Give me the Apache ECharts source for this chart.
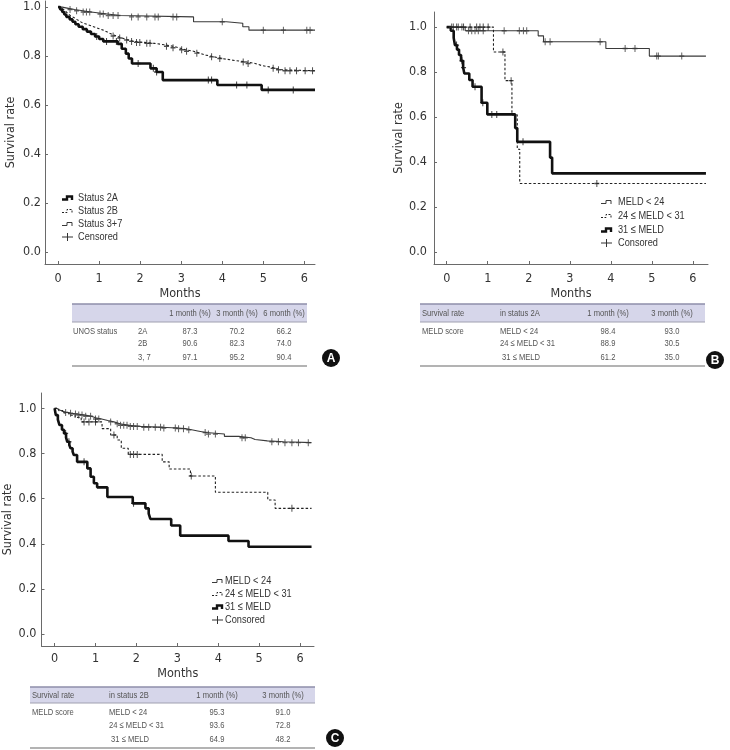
<!DOCTYPE html>
<html><head><meta charset="utf-8">
<script src="https://cdn.jsdelivr.net/npm/echarts@6/dist/echarts.min.js"></script>
<style>html,body{margin:0;padding:0;background:#fff}#c{width:730px;height:750px}</style>
</head><body><div id="c"></div>
<script>
// ---- tick labels ----
const xTicks = [0, 1, 2, 3, 4, 5, 6];
const yTicks = [0, 0.2, 0.4, 0.6, 0.8, 1.0];

// ---- Panel A: UNOS status (time in months, survival) ----
const aStatus2A = [[0,1],[0.05,0.99],[0.1,0.98],[0.15,0.97],[0.2,0.96],[0.28,0.95],[0.35,0.94],[0.42,0.93],[0.5,0.92],[0.6,0.91],[0.7,0.9],[0.8,0.89],[0.9,0.88],[1.0,0.87],[1.1,0.86],[1.45,0.85],[1.55,0.83],[1.65,0.81],[1.72,0.79],[1.8,0.77],[2.25,0.75],[2.4,0.735],[2.55,0.702],[3.88,0.682],[4.96,0.662],[6.26,0.662]];
const aStatus2ACens = [0.94,1.18,1.42,1.95,2.32,2.4,3.66,3.74,4.35,4.6,5.12,5.73];
const aStatus2B = [[0,1],[0.05,0.995],[0.1,0.988],[0.15,0.98],[0.2,0.972],[0.25,0.965],[0.3,0.958],[0.38,0.95],[0.45,0.943],[0.52,0.935],[0.6,0.93],[0.7,0.924],[0.8,0.918],[0.9,0.912],[1.0,0.906],[1.1,0.898],[1.2,0.89],[1.3,0.882],[1.42,0.874],[1.55,0.866],[1.7,0.86],[1.85,0.856],[2.1,0.852],[2.35,0.846],[2.6,0.84],[2.8,0.834],[2.95,0.826],[3.1,0.82],[3.3,0.812],[3.45,0.804],[3.6,0.797],[3.8,0.79],[4.0,0.782],[4.3,0.776],[4.6,0.77],[4.8,0.762],[4.95,0.756],[5.15,0.75],[5.3,0.744],[5.45,0.74],[6.26,0.74]];
const aStatus2BCens = [1.34,1.5,1.67,1.79,1.91,1.99,2.16,2.24,2.64,2.8,3.01,3.13,3.38,3.74,3.94,4.51,4.63,5.24,5.37,5.53,5.65,5.81,6.02,6.2];
const aStatus37 = [[0,1],[0.1,0.995],[0.25,0.99],[0.4,0.985],[0.6,0.98],[0.8,0.976],[1.0,0.972],[1.2,0.966],[1.5,0.96],[3.3,0.94],[4.1,0.934],[4.5,0.92],[4.65,0.906],[6.26,0.906]];
const aStatus37Cens = [0.29,0.45,0.61,0.69,0.77,1.02,1.1,1.22,1.34,1.46,1.79,1.95,2.16,2.36,2.44,2.8,2.89,4.0,5.0,5.49,6.06,6.14];

// ---- Panel B: MELD in status 2A ----
const bMeldLow = [[0,1],[0.45,0.984],[2.23,0.961],[2.36,0.935],[3.88,0.905],[4.94,0.871],[6.32,0.871]];
const bMeldLowCens = [0.12,0.24,0.37,0.53,0.61,0.69,0.77,0.89,1.4,1.77,1.87,1.95,2.4,2.52,3.74,4.35,4.59,5.12,5.16,5.73];
const bMeldMid = [[0,1],[1.14,0.889],[1.42,0.762],[1.59,0.61],[1.72,0.457],[1.78,0.305],[6.32,0.305]];
const bMeldMidCens = [0.16,0.28,0.41,0.57,0.73,0.81,0.89,1.01,1.37,1.57,3.66];
const bMeldHigh = [[0,1],[0.1,0.984],[0.17,0.952],[0.2,0.92],[0.25,0.9],[0.3,0.876],[0.35,0.85],[0.4,0.82],[0.43,0.794],[0.55,0.765],[0.63,0.735],[0.85,0.664],[0.99,0.612],[1.67,0.551],[1.72,0.49],[2.52,0.42],[2.57,0.35],[6.32,0.35]];
const bMeldHighCens = [0.24,0.37,0.41,0.69,0.88,1.1,1.22,1.86];

// ---- Panel C: MELD in status 2B ----
const cMeldLow = [[0,1],[0.05,0.993],[0.12,0.987],[0.2,0.982],[0.3,0.978],[0.4,0.975],[0.55,0.97],[0.75,0.965],[0.9,0.958],[1.0,0.953],[1.15,0.946],[1.3,0.94],[1.45,0.932],[1.6,0.925],[1.8,0.92],[2.1,0.916],[2.6,0.913],[3.0,0.91],[3.2,0.905],[3.35,0.9],[3.5,0.893],[3.7,0.886],[4.15,0.876],[4.5,0.87],[4.8,0.862],[4.9,0.856],[5.2,0.852],[5.6,0.848],[6.28,0.848]];
const cMeldLowCens = [0.27,0.39,0.51,0.59,0.67,0.76,0.88,1.0,1.08,1.37,1.53,1.61,1.69,1.77,1.85,1.93,2.02,2.18,2.3,2.46,2.59,2.67,2.95,3.03,3.15,3.28,3.68,3.76,3.93,4.58,4.66,5.31,5.47,5.63,5.8,5.96,6.2];
const cMeldMid = [[0,1],[0.1,0.99],[0.2,0.98],[0.35,0.97],[0.5,0.96],[0.65,0.94],[1.16,0.91],[1.37,0.882],[1.53,0.86],[1.63,0.823],[1.8,0.796],[2.63,0.763],[2.8,0.731],[3.32,0.7],[3.93,0.628],[5.21,0.594],[5.39,0.557],[6.28,0.557]];
const cMeldMidCens = [0.72,0.84,1.0,1.45,1.85,1.93,2.02,3.34,5.8];
const cMeldHigh = [[0,1],[0.03,0.97],[0.08,0.95],[0.12,0.926],[0.18,0.905],[0.23,0.889],[0.28,0.87],[0.31,0.852],[0.36,0.837],[0.39,0.823],[0.44,0.808],[0.47,0.793],[0.55,0.763],[0.8,0.734],[0.88,0.697],[0.96,0.668],[1.04,0.65],[1.29,0.607],[1.91,0.579],[2.22,0.557],[2.3,0.534],[2.34,0.51],[2.85,0.481],[3.07,0.436],[4.25,0.412],[4.74,0.387],[6.28,0.387]];
const cMeldHighCens = [0.27,0.35,0.72,1.93];

// ---- legend / table text ----
const legendA = ['Status 2A', 'Status 2B', 'Status 3+7', 'Censored'];
const legendBC = ['MELD < 24', '24 ≤ MELD < 31', '31 ≤ MELD', 'Consored'];
const tableAHeader = ['', '', '1 month (%)', '3 month (%)', '6 month (%)'];
const tableARows = [['UNOS status','2A','87.3','70.2','66.2'],['','2B','90.6','82.3','74.0'],['','3, 7','97.1','95.2','90.4']];
const tableBHeader = ['Survival rate', 'in status 2A', '1 month (%)', '3 month (%)'];
const tableBRows = [['MELD score','MELD < 24','98.4','93.0'],['','24 ≤ MELD < 31','88.9','30.5'],['',' 31 ≤ MELD','61.2','35.0']];
const tableCHeader = ['Survival rate', 'in status 2B', '1 month (%)', '3 month (%)'];
const tableCRows = [['MELD score','MELD < 24','95.3','91.0'],['','24 ≤ MELD < 31','93.6','72.8'],['',' 31 ≤ MELD','64.9','48.2']];

const FF = "'DejaVu Sans Condensed','Liberation Sans',sans-serif";
const FS = "'Liberation Sans',Arial,sans-serif";
const AX = '#6a6a6a', TX = '#333';
const PLUS = 'path://M4,0h2v4h4v2h-4v4h-2v-4h-4v-2h4z';

function survAt(curve, t) { let v = curve[0][1]; for (const p of curve) { if (p[0] <= t) v = p[1]; } return v; }

const styles = {
  thick: { color: '#111', width: 2.6, type: 'solid' },
  dash:  { color: '#222', width: 1.1, type: [2.5, 2] },
  thin:  { color: '#3a3a3a', width: 1.1, type: 'solid' }
};

function kmSeries(gi, curve, cens, st) {
  return [
    { type: 'line', xAxisIndex: gi, yAxisIndex: gi, step: 'end', symbol: 'none', silent: true,
      data: curve, lineStyle: { color: st.color, width: st.width, type: st.type }, z: st === styles.thick ? 3 : 2 },
    { type: 'scatter', xAxisIndex: gi, yAxisIndex: gi, symbol: PLUS, symbolSize: [5, 7], silent: true,
      data: cens.map(t => [t, survAt(curve, t)]), itemStyle: { color: st.color }, z: 4 }
  ];
}

function xAx(gi, min, max, gap, margin) {
  return { type: 'value', gridIndex: gi, min, max, name: 'Months', nameLocation: 'middle', nameGap: gap,
    nameTextStyle: { fontFamily: FF, fontSize: 12.5, color: TX },
    axisLine: { onZero: false, lineStyle: { color: AX, width: 1 } },
    axisTick: { inside: true, length: 3, customValues: xTicks, lineStyle: { color: AX } },
    axisLabel: { customValues: xTicks, margin, fontFamily: FF, fontSize: 12.5, color: TX },
    splitLine: { show: false } };
}
function yAx(gi, min, max, gap, margin) {
  return { type: 'value', gridIndex: gi, min, max, name: 'Survival rate', nameLocation: 'middle', nameGap: gap,
    nameTextStyle: { fontFamily: FF, fontSize: 12.5, color: TX },
    axisLine: { show: true, onZero: false, lineStyle: { color: AX, width: 1 } },
    axisTick: { show: true, inside: true, length: 3, customValues: yTicks, lineStyle: { color: AX } },
    axisLabel: { customValues: yTicks, margin, fontFamily: FF, fontSize: 12.5, color: TX, formatter: v => Number(v).toFixed(1) },
    splitLine: { show: false } };
}

// ---- graphics: legends, tables, panel letters ----
const G = [];
function txt(x, y, s, size, align, color, sx) {
  G.push({ type: 'text', x, y, scaleX: sx || 1, silent: true, style: { text: s, fontFamily: FS, fontSize: size, fill: color || '#444', align: align || 'left', verticalAlign: 'middle' } });
}
function line(x1, y1, x2, y2, stroke, w) {
  G.push({ type: 'line', silent: true, shape: { x1, y1, x2, y2 }, style: { stroke, lineWidth: w } });
}
function legend(x0, tx, ys, labels, order) {
  order.forEach((st, i) => {
    const y = ys[i];
    if (st) {
      G.push({ type: 'polyline', silent: true, shape: { points: [[x0, y + 1.5], [x0 + 5, y + 1.5], [x0 + 5, y - 1.5], [x0 + 10, y - 1.5], [x0 + 10, y + 2]] },
        style: { stroke: st.color, lineWidth: st === styles.thick ? 2.4 : 1, lineDash: Array.isArray(st.type) ? [2, 1.5] : null, fill: null } });
    } else {
      line(x0, y, x0 + 11, y, '#333', 1);
      line(x0 + 5.5, y - 4, x0 + 5.5, y + 4, '#333', 1);
    }
    txt(tx, y, labels[i], 11.5, 'left', '#333', 0.8);
  });
}
legend(62, 78, [198, 211, 224, 237], legendA, [styles.thick, styles.dash, styles.thin, null]);
legend(601, 618, [202, 216, 230, 243], legendBC, [styles.thin, styles.dash, styles.thick, null]);
legend(212, 225, [581, 594, 607, 620], legendBC, [styles.thin, styles.dash, styles.thick, null]);

function table(x1, x2, yTop, yHead, yBot, header, headerX, headerAlign, rows, rowYs, colX, colAlign) {
  G.push({ type: 'rect', silent: true, shape: { x: x1, y: yTop, width: x2 - x1, height: yHead - yTop }, style: { fill: '#d6d6ea' } });
  line(x1, yTop, x2, yTop, '#8e8eaa', 1.5);
  line(x1, yHead, x2, yHead, '#a0a0b0', 1);
  line(x1, yBot, x2, yBot, '#9a9a9a', 1.5);
  header.forEach((h, i) => { if (h) txt(headerX[i], (yTop + yHead) / 2, h, 9.5, headerAlign[i], '#555', 0.8); });
  rows.forEach((r, ri) => r.forEach((c, ci) => { if (c) txt(colX[ci], rowYs[ri], c, 9.5, colAlign[ci], '#555', 0.8); }));
}
table(72, 307, 304, 322, 366, tableAHeader, [0, 0, 190, 237, 284], ['left','left','center','center','center'],
  tableARows, [331, 343.5, 357], [73, 138, 190, 237, 284], ['left','left','center','center','center']);
table(420, 705, 304, 322, 366, tableBHeader, [422, 500, 608, 672], ['left','left','center','center'],
  tableBRows, [331, 343.5, 357], [422, 500, 608, 672], ['left','left','center','center']);
table(30, 315, 687, 703, 748, tableCHeader, [32, 109, 217, 283], ['left','left','center','center'],
  tableCRows, [712, 725.5, 739], [32, 109, 217, 283], ['left','left','center','center']);

function badge(cx, cy, s) {
  G.push({ type: 'circle', silent: true, shape: { cx, cy, r: 9 }, style: { fill: '#111' } });
  G.push({ type: 'text', x: cx, y: cy + 0.5, silent: true, style: { text: s, fontFamily: FS, fontSize: 12, fontWeight: 'bold', fill: '#fff', align: 'center', verticalAlign: 'middle' } });
}
badge(331, 358, 'A');
badge(715, 360, 'B');
badge(335, 738, 'C');

const option = {
  animation: false,
  backgroundColor: '#fff',
  grid: [
    { left: 45, top: 1, width: 270, height: 263 },
    { left: 434, top: 12, width: 274, height: 252 },
    { left: 41, top: 393, width: 273, height: 253 }
  ],
  xAxis: [xAx(0, -0.32, 6.26, 23, 8), xAx(1, -0.31, 6.37, 23, 8), xAx(2, -0.32, 6.34, 21, 6)],
  yAxis: [yAx(0, -0.049, 1.025, 28, 4), yAx(1, -0.053, 1.067, 29, 7), yAx(2, -0.053, 1.068, 27.5, 5)],
  series: [
    ...kmSeries(0, aStatus37, aStatus37Cens, styles.thin),
    ...kmSeries(0, aStatus2B, aStatus2BCens, styles.dash),
    ...kmSeries(0, aStatus2A, aStatus2ACens, styles.thick),
    ...kmSeries(1, bMeldLow, bMeldLowCens, styles.thin),
    ...kmSeries(1, bMeldMid, bMeldMidCens, styles.dash),
    ...kmSeries(1, bMeldHigh, bMeldHighCens, styles.thick),
    ...kmSeries(2, cMeldLow, cMeldLowCens, styles.thin),
    ...kmSeries(2, cMeldMid, cMeldMidCens, styles.dash),
    ...kmSeries(2, cMeldHigh, cMeldHighCens, styles.thick)
  ],
  graphic: G
};
const chart = echarts.init(document.getElementById('c'), null, { renderer: 'canvas' });
chart.setOption(option);
</script>
</body></html>
